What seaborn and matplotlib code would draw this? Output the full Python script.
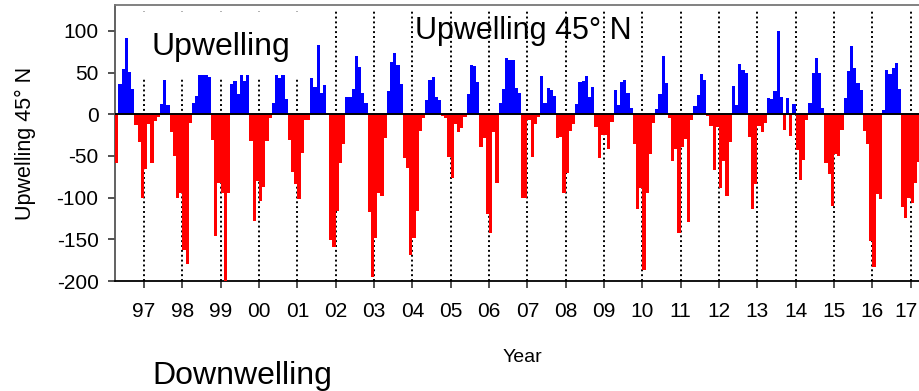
import numpy as np
import pandas as pd
import matplotlib
matplotlib.use("Agg")
import matplotlib.pyplot as plt
import matplotlib.transforms as mtransforms
from matplotlib.patches import Rectangle
import seaborn as sns

sns.set_style("ticks")
plt.rcParams["font.family"] = ["Liberation Sans", "DejaVu Sans"]
plt.rcParams["axes.unicode_minus"] = False
plt.rcParams["text.color"] = "black"
plt.rcParams["axes.labelcolor"] = "black"
plt.rcParams["xtick.color"] = "black"
plt.rcParams["ytick.color"] = "black"

# Monthly upwelling index at 45N (Apr 1996 .. Mar 2017)
y1996 = [-58, 36, 54, 92, 51, 30, -13, -33, -101]          # Apr-Dec
y1997 = [-66, -12, -59, -8, -3, 12, 41, 11, -21, -50, -100, -94]
y1998 = [-163, -180, -11, 14, 22, 47, 47, 47, 45, -31, -146, -82]
y1999 = [-94, -200, -95, 36, 40, 24, 47, 40, 47, -32, -128, -80]
y2000 = [-104, -87, -32, -5, 13, 47, 43, 47, 18, -31, -69, -84]
y2001 = [-102, -46, -7, -7, 44, 33, 83, 25, 35, 1, -151, -159]
y2002 = [-116, -59, -36, 21, 21, 30, 70, 57, 25, 13, -117, -195]
y2003 = [-148, -95, -98, -29, 28, 63, 73, 59, 36, -52, -64, -169]
y2004 = [-148, -116, -20, -5, 17, 41, 45, 21, 17, -2, -5, -51]
y2005 = [-77, -12, -21, -17, -3, 24, 59, 58, 39, -39, -28, -120]
y2006 = [-142, -21, -83, 14, 30, 67, 65, 65, 31, 26, -101, -101]
y2007 = [-7, -51, -12, -3, 46, 14, 32, 29, 22, -28, -27, -95]
y2008 = [-70, -20, -12, 12, 39, 40, 46, 21, 33, -15, -53, -25]
y2009 = [-25, -42, -9, 29, 11, 39, 41, 26, 7, -36, -114, -88]
y2010 = [-187, -95, -48, -11, 6, 24, 70, 37, -5, -56, -42, -143]
y2011 = [-39, -30, -129, -7, 10, 23, 48, 41, -2, -14, -67, -15]
y2012 = [-88, -56, -98, -33, 34, 11, 60, 53, 50, -27, -114, -84]
y2013 = [-14, -21, -10, 19, 18, 28, 100, 21, -19, 19, -26, 12]
y2014 = [-43, -79, -55, -7, 14, 50, 67, 50, 8, -58, -72, -110]
y2015 = [-48, -50, -19, 20, 52, 82, 56, 37, 29, -20, -36, -152]
y2016 = [-183, -96, -102, 5, 53, 48, 55, 61, 30, -111, -125, -100]
y2017 = [-106, -83, -57]                                      # Jan-Mar

year_labels = ["97", "98", "99", "00", "01", "02", "03", "04", "05", "06",
               "07", "08", "09", "10", "11", "12", "13", "14", "15", "16", "17"]
y_ticks = [-200, -150, -100, -50, 0, 50, 100]

values = np.array(y1996 + y1997 + y1998 + y1999 + y2000 + y2001 + y2002 + y2003
                  + y2004 + y2005 + y2006 + y2007 + y2008 + y2009 + y2010 + y2011
                  + y2012 + y2013 + y2014 + y2015 + y2016 + y2017, dtype=float)
month_pos = np.arange(len(values)) + 0.5   # months since Apr 1996 (bar centres)
df = pd.DataFrame({"month": month_pos, "value": values,
                   "sign": np.where(values >= 0, "up", "down")})

# year boundaries: Jan 1997 is 9 months after Apr 1996
year_ticks = [9 + 12 * k for k in range(len(year_labels))]

fig = plt.figure(figsize=(9.19, 3.91), dpi=100)
ax = fig.add_axes([0.1254, 0.2813, 0.8746, 0.7059])

for t in year_ticks:
    ax.axvline(t, color="black", lw=1.4, ls=(0, (1, 1.5)), ymax=0.985, zorder=1)

# white panel behind the "Upwelling" label (hides the dotted lines there)
ax.add_patch(Rectangle((0.022, 0.739), 0.214, 0.236, transform=ax.transAxes,
                       facecolor="white", edgecolor="none", zorder=2))

sns.barplot(data=df, x="month", y="value", hue="sign",
            palette={"up": "#0000ff", "down": "#ff0000"}, saturation=1,
            native_scale=True, width=1.0, dodge=False, errorbar=None,
            legend=False, linewidth=0, ax=ax, zorder=3)

ax.axhline(0, color="black", lw=1.4, zorder=4)

ax.set_xlim(0, 251.6)
ax.set_ylim(-200, 131)
ax.set_xticks(year_ticks, year_labels)
ax.set_yticks(y_ticks, [str(v) for v in y_ticks])

ax.tick_params(axis="both", direction="out", length=5, width=1.2,
               labelsize=15, color="#333333", labelcolor="black")
ax.tick_params(axis="x", pad=10)
ax.tick_params(axis="y", pad=7)

# nudge the last year label so it stays inside the picture
last = ax.get_xticklabels()[-1]
last.set_transform(last.get_transform() +
                   mtransforms.ScaledTranslation(-0.045, 0, fig.dpi_scale_trans))

ax.spines["right"].set_visible(False)
ax.spines["top"].set_color("#777777")
ax.spines["left"].set_color("#555555")
ax.spines["bottom"].set_color("black")
for side in ["top", "left", "bottom"]:
    ax.spines[side].set_linewidth(1.3)

ax.set_ylabel("Upwelling 45° N", fontsize=15.5, va="center")
ax.yaxis.set_label_coords(-0.1115, 0.5)
ax.set_xlabel("Year", fontsize=14, va="center")
ax.xaxis.set_label_coords(0.506, -0.278)

ax.text(0.0445, 0.819, "Upwelling", transform=ax.transAxes, fontsize=23,
        ha="left", va="baseline", zorder=2.5)
ax.text(0.373, 0.877, "Upwelling 45° N", transform=ax.transAxes, fontsize=22,
        ha="left", va="baseline", zorder=5)
fig.text(0.1654, 0.0179, "Downwelling", fontsize=23, ha="left", va="baseline")

fig.savefig("out.png", dpi=100)
